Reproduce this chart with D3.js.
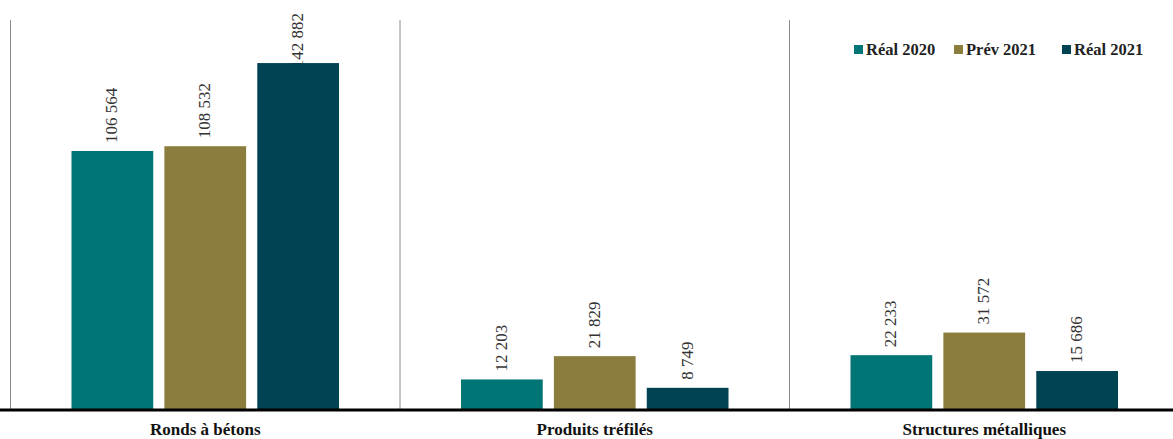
<!DOCTYPE html>
<html><head><meta charset="utf-8">
<script src="https://cdn.jsdelivr.net/npm/d3@7"></script>
<style>body{margin:0;background:#fff}svg{display:block}</style>
</head><body>
<svg id="c" width="1173" height="439"></svg>
<script>
const categories = ["Ronds à bétons", "Produits tréfilés", "Structures métalliques"];
const seriesNames = ["Réal 2020", "Prév 2021", "Réal 2021"];
const real2020 = [106564, 12203, 22233];
const prev2021 = [108532, 21829, 31572];
const real2021 = [142882, 8749, 15686];
const colors = ["#007575", "#8a7d3d", "#004353"];

const series = [real2020, prev2021, real2021];
const svg = d3.select("#c");
const baseY = 409, topY = 13;
const x0 = d3.scaleBand().domain(categories).range([10.5, 1179]).paddingInner(0).paddingOuter(0);
const x1 = d3.scaleBand().domain(seriesNames).range([61, x0.bandwidth() - 61]).paddingInner(0.12).paddingOuter(0);
const y = d3.scaleLinear().domain([0, 106564]).range([baseY, 151]);
const color = d3.scaleOrdinal().domain(seriesNames).range(colors);
const fmt = v => d3.format(",")(v).replace(/,/g, " ");

// separators
svg.append("g").selectAll("line").data(categories).join("line")
  .attr("x1", d => x0(d)).attr("x2", d => x0(d))
  .attr("y1", 20).attr("y2", baseY)
  .attr("stroke", "#8c8c8c").attr("stroke-width", 1);

const labelLayer = svg.append("g");
const barLayer = svg.append("g");
categories.forEach((cat, ci) => {
  const rows = seriesNames.map((s, si) => ({s, v: series[si][ci]}));
  const gb = barLayer.append("g").attr("transform", `translate(${x0(cat)},0)`);
  gb.selectAll("rect").data(rows).join("rect")
    .attr("x", d => x1(d.s)).attr("width", x1.bandwidth())
    .attr("y", d => y(d.v)).attr("height", d => baseY - y(d.v))
    .attr("fill", d => color(d.s));
  const gl = labelLayer.append("g").attr("transform", `translate(${x0(cat)},0)`);
  gl.selectAll("text").data(rows).join("text")
    .attr("font-family", "Liberation Serif, serif").attr("font-size", 17)
    .attr("fill", "#333").attr("text-anchor", "end")
    .text(d => fmt(d.v))
    .attr("transform", function(d) {
      const len = this.getComputedTextLength();
      const endY = Math.max(topY, y(d.v) - 8 - len);
      return `translate(${x1(d.s) + x1.bandwidth() / 2 + 5},${endY}) rotate(-90)`;
    });
});

// baseline
svg.append("line").attr("x1", 0).attr("x2", 1173).attr("y1", baseY + 1).attr("y2", baseY + 1)
  .attr("stroke", "#000").attr("stroke-width", 3);

// category axis labels
const xAxis = d3.axisBottom(x0).tickSize(0).tickPadding(0);
const ax = svg.append("g").attr("transform", `translate(0,${baseY + 11})`).call(xAxis);
ax.select(".domain").remove();
ax.selectAll("text").attr("font-family", "Liberation Serif, serif").attr("font-size", 17)
  .attr("font-weight", "bold").attr("fill", "#111").attr("dy", "0.9em");

// legend
const legX = [854, 954, 1062];
const leg = svg.append("g").selectAll("g").data(seriesNames).join("g")
  .attr("transform", (d, i) => `translate(${legX[i]},45)`);
leg.append("rect").attr("x", 0).attr("y", 0).attr("width", 9).attr("height", 9).attr("fill", d => color(d));
leg.append("text").attr("x", 12).attr("y", 10)
  .attr("font-family", "Liberation Serif, serif").attr("font-size", 16.5).attr("font-weight", "bold")
  .attr("fill", "#222").text(d => d);
</script>
</body></html>
